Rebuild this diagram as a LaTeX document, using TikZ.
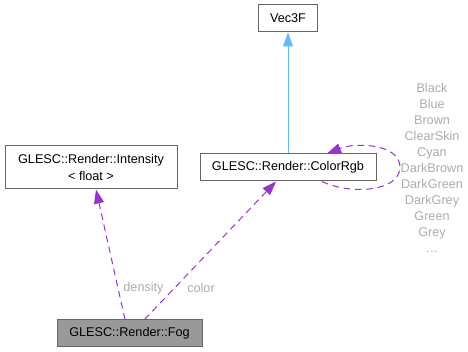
\documentclass[tikz,border=0pt]{standalone}
\usepackage{fontspec}
\setmainfont{Liberation Sans}
\usetikzlibrary{arrows.meta}
\definecolor{edgepurple}{HTML}{9A32CD}
\definecolor{edgeblue}{HTML}{63B8FF}
\definecolor{boxline}{HTML}{666666}
\definecolor{fogfill}{HTML}{999999}
\definecolor{lbl}{HTML}{ACACAC}
\tikzset{
  cls/.style={draw=boxline, line width=0.75pt, fill=white, inner sep=0pt, align=center,
    font=\fontsize{9.5pt}{12pt}\selectfont},
  usage/.style={-{Triangle[length=10.5pt,width=7.5pt,fill=edgepurple]}, draw=edgepurple,
    line width=0.75pt, dash pattern=on 5pt off 3.5pt},
  inherit/.style={-{Triangle[length=10.5pt,width=7.5pt,fill=edgeblue]}, draw=edgeblue, line width=0.75pt},
  elabel/.style={text=lbl, font=\fontsize{9.5pt}{12pt}\selectfont, inner sep=0pt},
}
\begin{document}
\begin{tikzpicture}[x=0.75pt, y=-0.75pt]
\useasboundingbox (0,0) rectangle (468,352);
% class boxes
\node[cls, minimum width=59*0.75pt, minimum height=27*0.75pt] (vec) at (288,18.5) {Vec3F};
\node[cls, minimum width=176*0.75pt, minimum height=27*0.75pt] (crgb) at (288,167.5) {GLESC::Render::ColorRgb};
\node[cls, minimum width=172*0.75pt, minimum height=43*0.75pt] (inten) at (91,167.5) {GLESC::Render::Intensity\\[1pt]{\textless} float {\textgreater}};
\node[cls, fill=fogfill, minimum width=145*0.75pt, minimum height=27*0.75pt] (fog) at (129.5,333.5) {GLESC::Render::Fog};
% inheritance
\draw[inherit] (crgb.north) -- (vec.south);
% member relations
\draw[usage] ([xshift=-4.5*0.75pt]fog.north) -- ([xshift=5*0.75pt]inten.south);
\draw[usage] ([xshift=15*0.75pt]fog.north) -- ([xshift=-12*0.75pt]crgb.south);
% self relation
\draw[usage] ([xshift=34*0.75pt]crgb.south) .. controls (350,195) and (400,192) .. (400,167)
  .. controls (400,144) and (356,142) .. ([xshift=39*0.75pt]crgb.north);
% edge labels
\node[elabel] (ldens) at (143.5,288) {density};
\node[elabel] (lcol) at (201,288) {color};
\node[elabel, align=center] (lself) at (432,168)
  {Black\\Blue\\Brown\\ClearSkin\\Cyan\\DarkBrown\\DarkGreen\\DarkGrey\\Green\\Grey\\\ldots};
\end{tikzpicture}
\end{document}
